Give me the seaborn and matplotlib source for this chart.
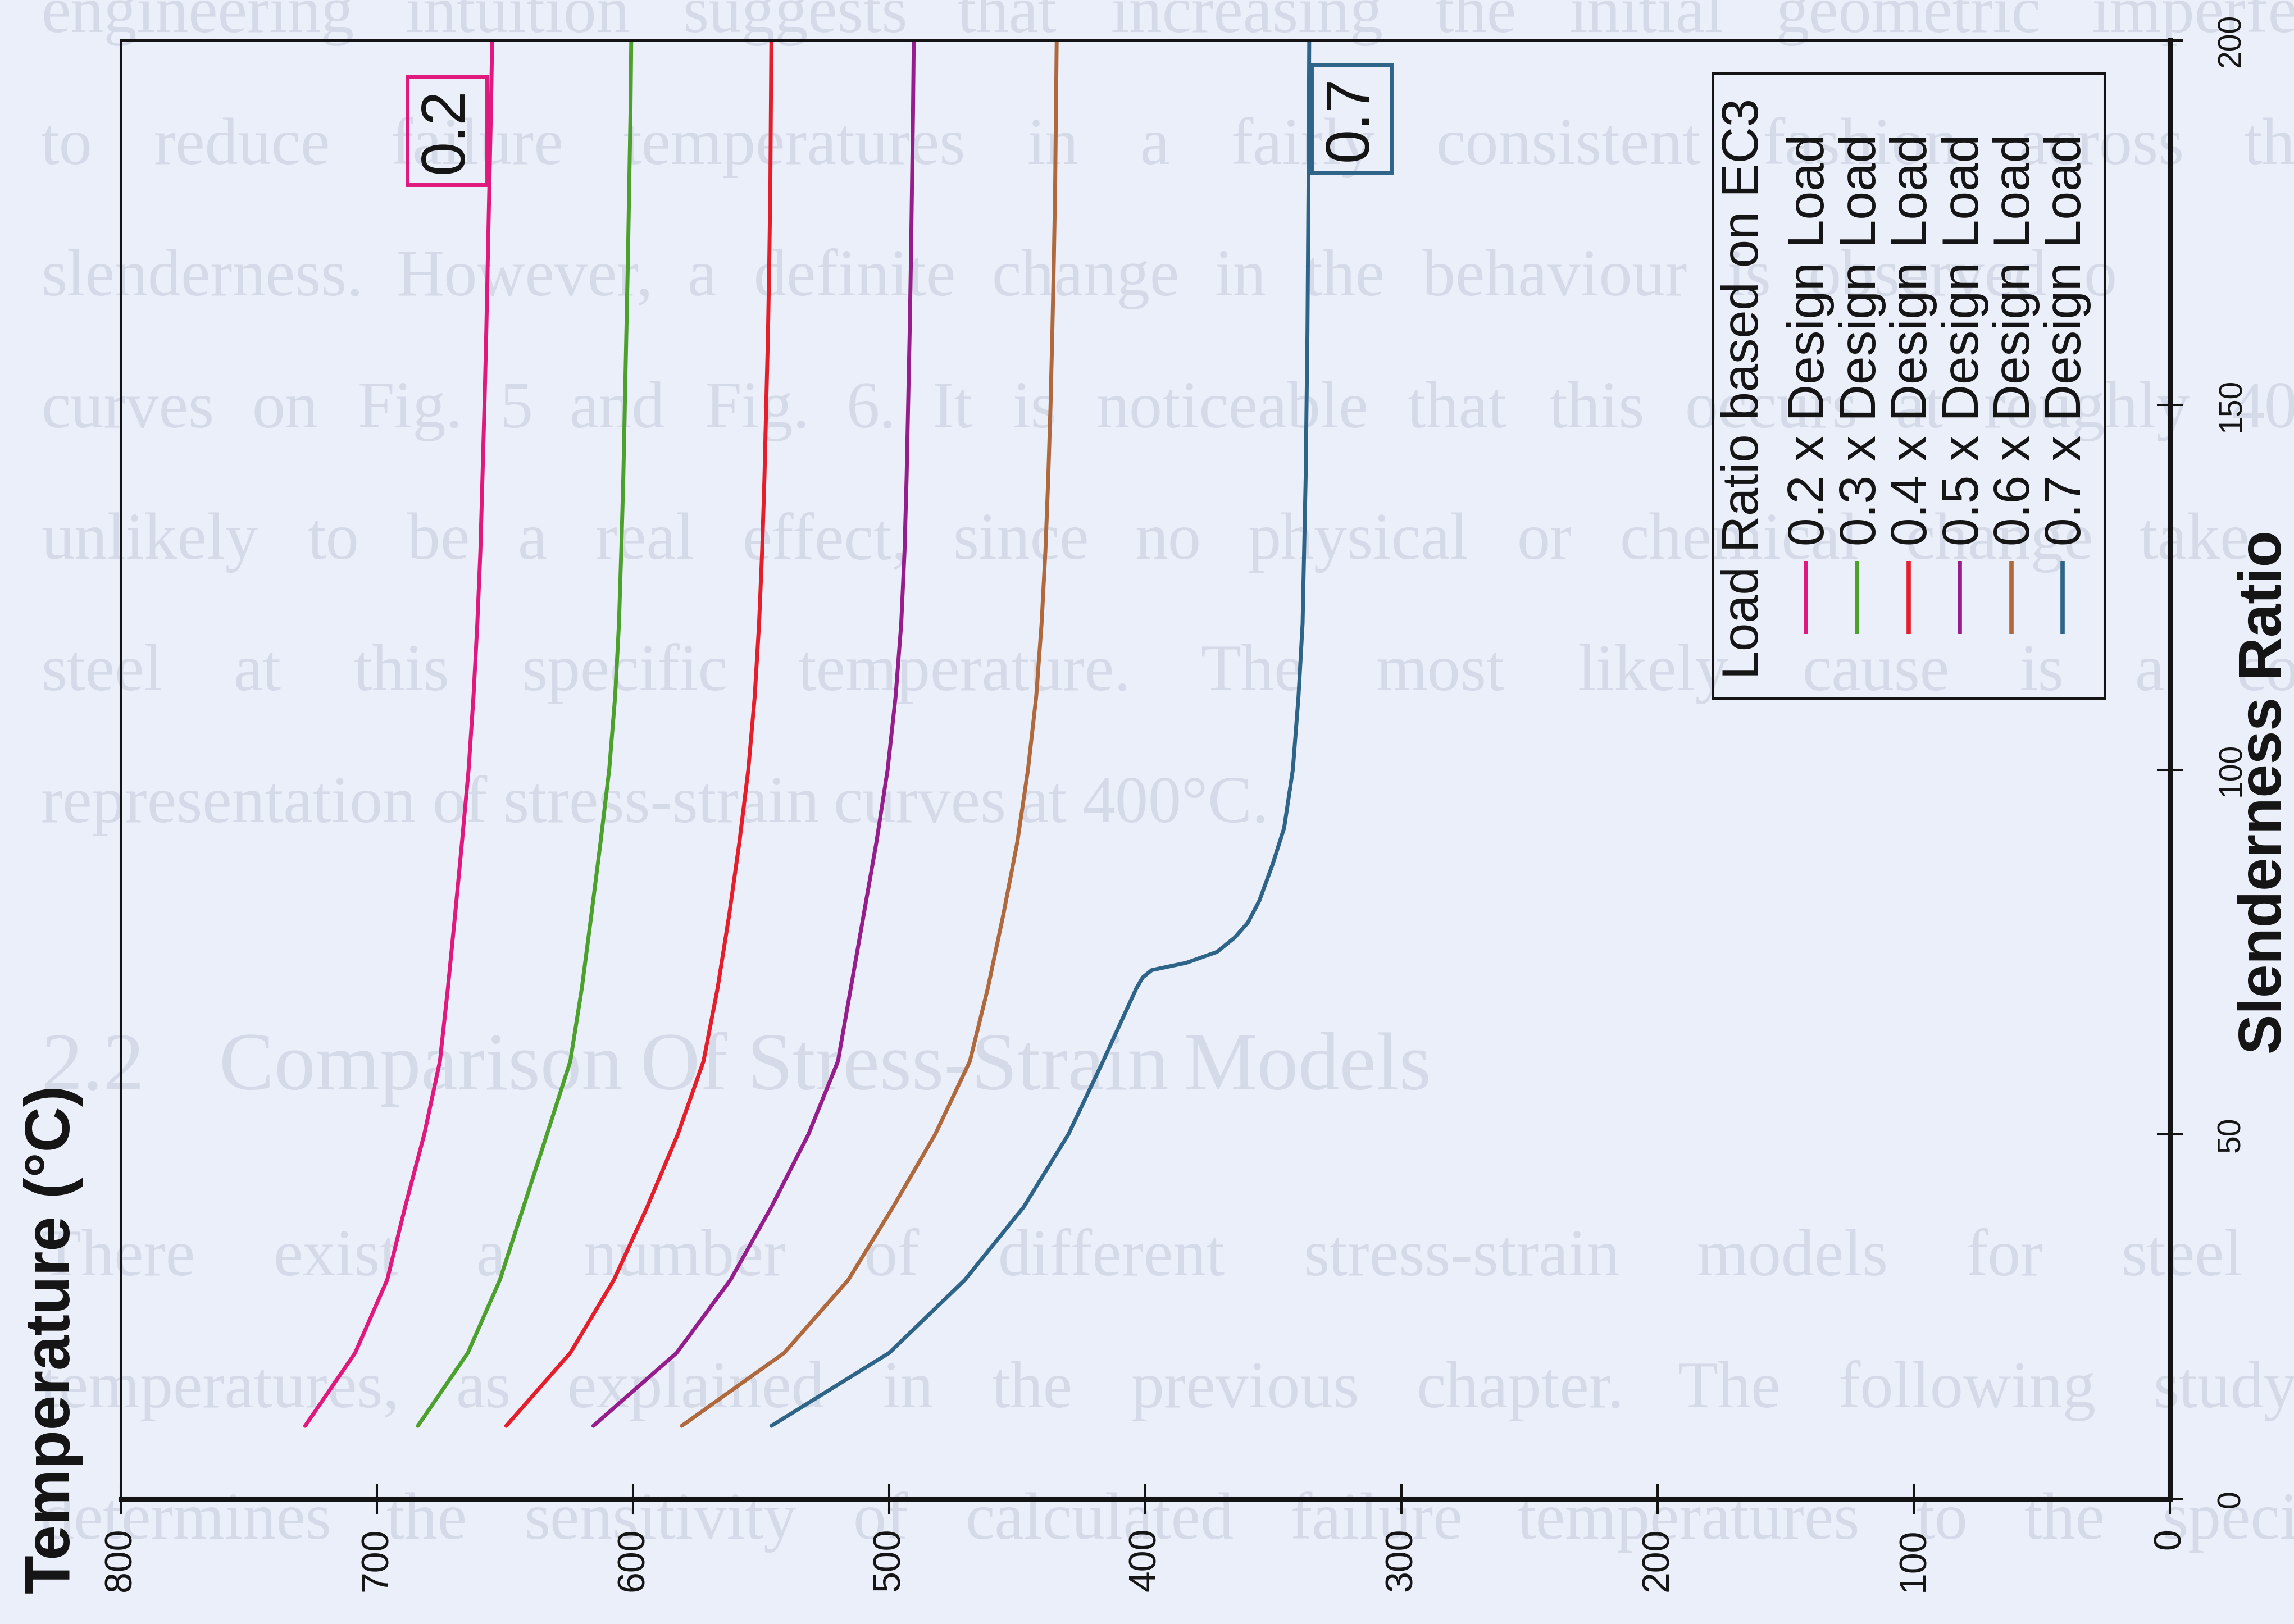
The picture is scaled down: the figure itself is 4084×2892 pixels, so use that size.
import matplotlib
matplotlib.use("Agg")
import matplotlib.pyplot as plt
import seaborn as sns
import pandas as pd
from matplotlib.patches import Rectangle
from matplotlib.lines import Line2D
from matplotlib.textpath import TextPath
from matplotlib.font_manager import FontProperties

# ---------------------------------------------------------------- data
slenderness = [10, 20, 30, 40, 50, 60, 70, 80, 90, 100,
               110, 120, 130, 140, 150, 160, 170, 180, 190, 200]
temp_02 = [728, 708.5, 696, 689, 681.5, 675.4, 672.3, 669.5, 666.8, 664.2,
           662.3, 660.8, 659.6, 658.8, 658, 657.3, 656.7, 656.1, 655.5, 655]
temp_03 = [684, 664.5, 652, 642.8, 633.6, 624.5, 620, 616.3, 612.7, 609.3,
           607, 605.5, 604.6, 603.8, 603.2, 602.6, 602, 601.5, 601, 600.7]
temp_04 = [649.5, 624.5, 607.5, 594.5, 582.5, 572.5, 567, 562.5, 558.5, 555,
           552.5, 550.8, 549.6, 548.7, 548, 547.3, 546.8, 546.4, 546.2, 546]
temp_05 = [615.5, 583, 562, 546, 531.5, 520, 515, 510, 505, 500.6,
           497.5, 495.3, 494, 493.2, 492.6, 492, 491.5, 491.1, 490.7, 490.4]
temp_06 = [581, 541, 516, 498.5, 482, 468.5, 461.5, 455.5, 450, 445.8,
           442.6, 440.5, 439, 437.9, 437, 436.3, 435.7, 435.2, 434.9, 434.6]
slenderness_07 = [10, 20, 30, 40, 50, 60, 70, 71.5, 72.5, 73.5, 75, 77, 79,
                  82, 87, 92, 100, 110, 120, 140, 160, 180, 200]
temp_07 = [546, 500, 470.5, 447.5, 430, 416.5, 403.5, 401, 397.5, 384, 372,
           365, 360, 355.5, 350.3, 345.8, 342.4, 340.2, 338.6, 337.4, 336.7,
           336.3, 336]

load_ratios = ["0.2", "0.3", "0.4", "0.5", "0.6", "0.7"]
series_labels = [f"{r} x Design Load" for r in load_ratios]
series_temps = [temp_02, temp_03, temp_04, temp_05, temp_06, temp_07]
series_slender = [slenderness] * 5 + [slenderness_07]
colors = ["#e0197f", "#4ca02c", "#e41e2a", "#961e8c", "#af693c", "#2d6487"]

temp_ticks = list(range(0, 801, 100))
slender_ticks = [0, 50, 100, 150, 200]
legend_title = "Load Ratio based on EC3"
x_title = "Temperature (°C)"
y_title = "Slenderness Ratio"

# printed page text behind the figure
page_lines = [
    "engineering intuition suggests that increasing the initial geometric imperfe",
    "to reduce failure temperatures in a fairly consistent fashion across th",
    "slenderness.  However, a definite change in the behaviour is observed o",
    "curves on Fig. 5 and Fig. 6.  It is noticeable that this occurs at roughly 40",
    "unlikely to be a real effect, since no physical or chemical change take",
    "steel at this specific temperature.  The most likely cause is a co",
    "representation of stress-strain curves at 400°C.",
    "There exist a number of different stress-strain models for steel",
    "temperatures, as explained in the previous chapter.  The following study",
    "determines the sensitivity of calculated failure temperatures to the speci",
]
page_heading_number = "2.2"
page_heading = "Comparison Of Stress-Strain Models"

# ---------------------------------------------------------------- style
W, H, DPI = 4084, 2892, 100
BG = "#ebeffa"
INK = "#141414"
PAGE_INK = "#d5dae8"

sns.set_style("ticks")
plt.rcParams["font.family"] = ["Liberation Sans", "DejaVu Sans"]
plt.rcParams["text.color"] = INK
plt.rcParams["axes.labelcolor"] = INK

fig = plt.figure(figsize=(W / DPI, H / DPI), dpi=DPI, facecolor=BG)

# faint page text, justified word by word
page_font = FontProperties(family="Liberation Serif")


def word_width(word, size_px):
    return TextPath((0, 0), word, size=size_px, prop=page_font).get_extents().width


def set_page_line(text, left, baseline, size_px, right=None):
    words = text.split()
    widths = [word_width(w, size_px) for w in words]
    if right is None or len(words) < 2:
        gap = 0.27 * size_px
    else:
        gap = (right - left - sum(widths)) / (len(words) - 1)
    x = left
    for w, wd in zip(words, widths):
        fig.text(x / W, 1 - baseline / H, w, fontsize=size_px * 72 / DPI,
                 family=["Liberation Serif", "DejaVu Serif"], color=PAGE_INK,
                 ha="left", va="baseline", zorder=-10)
        x += wd + gap


line_baselines = [57, 292, 526, 761, 995, 1229, 1464, 2271, 2506, 2740]
line_rights = [4084, 4084, 3760, 4084, 4000, 4084, None, 3985, 4084, 4084]
for txt, yb, xr in zip(page_lines, line_baselines, line_rights):
    set_page_line(txt, 73, yb, 118, xr)
set_page_line(page_heading_number, 73, 1940, 147)
set_page_line(page_heading, 390, 1940, 147)

# ---------------------------------------------------------------- chart
ax = fig.add_axes([215 / W, 1 - 2669 / H, 3648 / W, 2597 / H])
ax.set_facecolor("none")

frames = []
for lab, t, s in zip(series_labels, series_temps, series_slender):
    frames.append(pd.DataFrame({"temperature": t, "slenderness": s, "series": lab}))
df = pd.concat(frames, ignore_index=True)

sns.lineplot(data=df, x="temperature", y="slenderness", hue="series",
             palette=dict(zip(series_labels, colors)), sort=False,
             estimator=None, legend=False, linewidth=5.0, ax=ax)

ax.set_xlim(800, 0)
ax.set_ylim(0, 200)
ax.set_xticks(temp_ticks)
ax.set_yticks(slender_ticks)
ax.xaxis.set_ticks_position("bottom")
ax.yaxis.set_ticks_position("right")

for side, lw in [("bottom", 6.5), ("right", 6.5), ("top", 2.9), ("left", 2.9)]:
    ax.spines[side].set_linewidth(lw)
    ax.spines[side].set_color(INK)
    ax.spines[side].set_visible(True)

ax.tick_params(axis="x", direction="inout", length=39, width=2.9, pad=18,
               labelsize=49, labelrotation=90, color=INK, labelcolor=INK)
ax.tick_params(axis="y", direction="inout", length=33, width=2.9, pad=43,
               labelsize=41, labelrotation=90, color=INK, labelcolor=INK,
               left=False, right=True, labelleft=False, labelright=True)
for lab in ax.get_yticklabels():
    lab.set_verticalalignment("center")

ax.set_xlabel(x_title, fontsize=81, fontweight="bold")
ax.xaxis.set_label_coords(-0.0329, 0.1094)
ax.xaxis.label.set_rotation(90)
ax.xaxis.label.set_rotation_mode("default")
ax.xaxis.label.set_horizontalalignment("center")
ax.xaxis.label.set_verticalalignment("center")

ax.set_ylabel(y_title, fontsize=77, fontweight="bold")
ax.yaxis.set_label_position("right")
ax.yaxis.set_label_coords(1.0467, 0.4844)
ax.yaxis.label.set_rotation(90)
ax.yaxis.label.set_rotation_mode("default")
ax.yaxis.label.set_horizontalalignment("center")
ax.yaxis.label.set_verticalalignment("center")

# end labels on the lowest and highest load ratio curves
for r, c, (tx, sy) in [(load_ratios[0], colors[0], (672.6, 187.6)),
                       (load_ratios[-1], colors[-1], (319.5, 189.3))]:
    ax.text(tx, sy, r, rotation=90, ha="center", va="center", fontsize=79,
            color=INK, zorder=5,
            bbox=dict(boxstyle="square,pad=0.18", fc="none", ec=c, lw=5))

# legend, drawn upright along the slenderness axis
ax.add_patch(Rectangle((0.7771, 0.5487), 0.1911, 0.4286, transform=ax.transAxes,
                       fill=False, ec=INK, lw=2.9, clip_on=False, zorder=4))
ax.text(0.7925, 0.5622, legend_title, transform=ax.transAxes, rotation=90,
        ha="center", va="bottom", fontsize=65, color=INK)
step = 0.02505
for i, (lab, c) in enumerate(zip(series_labels, colors)):
    ax.text(0.8248 + i * step, 0.6534, lab, transform=ax.transAxes, rotation=90,
            ha="center", va="bottom", fontsize=65.5, color=INK)
    hx = 0.8224 + i * step
    ax.add_line(Line2D([hx, hx], [0.593, 0.6431], transform=ax.transAxes,
                       color=c, lw=5.5, solid_capstyle="butt", clip_on=False))

fig.savefig("out.png", dpi=DPI, facecolor=BG)
